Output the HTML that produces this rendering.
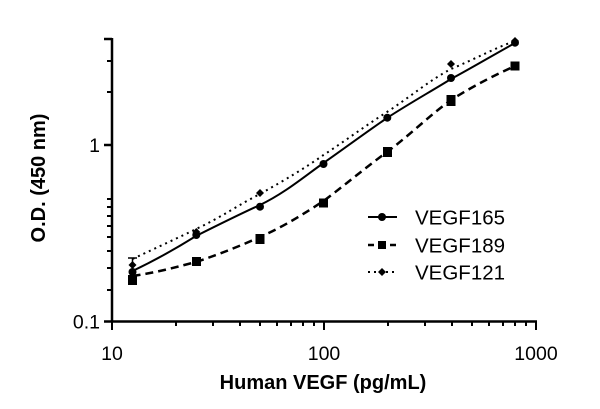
<!DOCTYPE html>
<html><head><style>body{margin:0;background:#fff}svg{display:block}</style></head><body>
<svg width="600" height="409" xmlns="http://www.w3.org/2000/svg" font-family="Liberation Sans, Arial, sans-serif">
<g stroke="#000" stroke-width="2.5" fill="none">
<line x1="112" y1="38" x2="112" y2="322.5"/>
<line x1="111" y1="321.5" x2="537" y2="321.5"/>
<line x1="104" y1="321.5" x2="112" y2="321.5"/>
<line x1="104" y1="145" x2="112" y2="145"/>
<line x1="104" y1="39" x2="112" y2="39"/>
</g>
<g stroke="#000" stroke-width="2">
<line x1="107" y1="290" x2="112" y2="290"/><line x1="107" y1="268" x2="112" y2="268"/><line x1="107" y1="251" x2="112" y2="251"/><line x1="107" y1="237" x2="112" y2="237"/><line x1="107" y1="226" x2="112" y2="226"/><line x1="107" y1="216" x2="112" y2="216"/><line x1="107" y1="207" x2="112" y2="207"/><line x1="107" y1="199" x2="112" y2="199"/>
<line x1="107" y1="92" x2="112" y2="92"/><line x1="107" y1="61" x2="112" y2="61"/>
<line x1="112" y1="321" x2="112" y2="330"/><line x1="324" y1="321" x2="324" y2="330"/><line x1="536" y1="321" x2="536" y2="330"/>
<line x1="176" y1="321" x2="176" y2="326"/><line x1="213" y1="321" x2="213" y2="326"/><line x1="240" y1="321" x2="240" y2="326"/><line x1="260" y1="321" x2="260" y2="326"/><line x1="277" y1="321" x2="277" y2="326"/><line x1="291" y1="321" x2="291" y2="326"/><line x1="303" y1="321" x2="303" y2="326"/><line x1="314" y1="321" x2="314" y2="326"/>
<line x1="388" y1="321" x2="388" y2="326"/><line x1="425" y1="321" x2="425" y2="326"/><line x1="452" y1="321" x2="452" y2="326"/><line x1="472" y1="321" x2="472" y2="326"/><line x1="489" y1="321" x2="489" y2="326"/><line x1="503" y1="321" x2="503" y2="326"/><line x1="515" y1="321" x2="515" y2="326"/><line x1="526" y1="321" x2="526" y2="326"/>
</g>
<g font-size="19.5" fill="#000">
<text x="100" y="328.5" text-anchor="end">0.1</text>
<text x="100" y="152" text-anchor="end">1</text>
<text x="112" y="360" text-anchor="middle">10</text>
<text x="324" y="360" text-anchor="middle">100</text>
<text x="536" y="360" text-anchor="middle">1000</text>
</g>
<text x="323" y="389" font-size="20" font-weight="bold" text-anchor="middle">Human VEGF (pg/mL)</text>
<text transform="translate(45,178) rotate(-90)" font-size="20" font-weight="bold" text-anchor="middle">O.D. (450 nm)</text>
<g fill="none" stroke="#000" stroke-width="2">
<path d="M132.5,271 C160,258 180,246 196,236 C220,224 240,214 260,205 C285,193 305,176 323.5,163 C345,148 365,133 387,118 C410,103 430,92 451,79 C475,66 495,54 515,43"/>
<path stroke-width="2.5" stroke-dasharray="8,5" d="M132.5,276 C160,272 180,266 196,262 C220,254 240,246 260,237 C285,226 305,213 323.5,201 C345,185 365,168 387,152 C410,135 430,115 451,100 C475,85 495,75 515,66"/>
<path stroke-dasharray="2,4" d="M132.5,259 C160,246 180,237 196,229 C220,218 240,204 260,194 C285,180 305,168 323.5,155 C345,141 365,126 387,112 C410,97 430,80 451,69 C475,59 495,48 515,41"/>
</g>
<g fill="#000">
<circle cx="132.5" cy="272" r="4"/><circle cx="196.3" cy="235" r="4"/><circle cx="260" cy="206.7" r="4"/><circle cx="323.5" cy="164" r="4"/><circle cx="387.3" cy="117.7" r="4"/><circle cx="451" cy="78" r="4"/><circle cx="515" cy="42.7" r="4"/>
<rect x="128" y="275" width="9" height="10"/><rect x="192" y="257" width="9" height="9"/><rect x="255.5" y="234" width="9" height="10"/><rect x="319" y="198.5" width="9" height="9"/><rect x="383" y="147" width="9" height="10"/><rect x="446.5" y="95" width="9" height="11"/><rect x="510.5" y="61.5" width="9" height="9"/>
<g transform="translate(132.5,265)"><path d="M0,-4L4,0L0,4L-4,0Z"/></g>
<g transform="translate(196.3,232)"><path d="M0,-4L4,0L0,4L-4,0Z"/></g>
<g transform="translate(260,193)"><path d="M0,-4L4,0L0,4L-4,0Z"/></g>
<g transform="translate(451,64)"><path d="M0,-4L4,0L0,4L-4,0Z"/></g>
<g transform="translate(515,41)"><path d="M0,-4L4,0L0,4L-4,0Z"/></g>
</g>
<line x1="132.5" y1="258" x2="132.5" y2="268" stroke="#000" stroke-width="1.5"/>
<line x1="128" y1="258" x2="137" y2="258" stroke="#000" stroke-width="1.5"/>
<g stroke="#000" fill="none">
<line x1="368" y1="217" x2="397" y2="217" stroke-width="2"/>
<line x1="368" y1="245" x2="397" y2="245" stroke-width="2.5" stroke-dasharray="6,5"/>
<line x1="368" y1="272" x2="397" y2="272" stroke-width="2" stroke-dasharray="2,4"/>
</g>
<circle cx="382" cy="217" r="4"/>
<rect x="378" y="241" width="8" height="8"/>
<path d="M382,268L386,272L382,276L378,272Z"/>
<g font-size="20.5">
<text x="415" y="224.5">VEGF165</text>
<text x="415" y="252.5">VEGF189</text>
<text x="415" y="279.5">VEGF121</text>
</g>
</svg>
</body></html>
